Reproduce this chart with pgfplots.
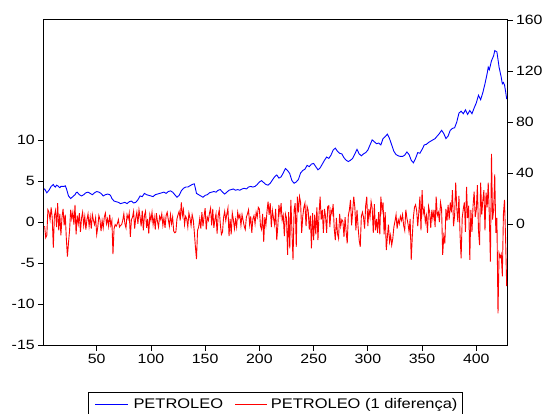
\documentclass[border=0pt]{standalone}
\usepackage{fontspec}
\setmainfont{Liberation Sans}[FakeStretch=1.18]
\usepackage{pgfplots}
\pgfplotsset{compat=1.18}
\begin{document}
\begin{tikzpicture}
\pgfplotsset{
  common/.style={
    at={(0,0)}, anchor=south west,
    scale only axis, width=463.3bp, height=325.3bp,
    xmin=1.13, xmax=428.3,
    tick align=outside, major tick length=5.5bp,
    tick style={black, line width=0.8bp},
    /pgf/number format/assume math mode=true,
    tick label style={font=\fontsize{13.5}{15}\selectfont},
    axis line style={line width=1bp},
  },
}
\begin{axis}[common, axis y line*=right, axis x line=none,
  ymin=-95.1, ymax=160, ytick={0,40,80,120,160}]
\addplot[draw=blue, line width=0.9bp] coordinates {
(1,27)(2,27.5)(4,24.5)(6,26.5)(7,28)(8,29.5)(10,31)(11,29.5)(12,29)(13,30.5)(14,30)(16,28.5)(17,29.5)(18,29.5)(20,29.5)(21,30)(22,28)(23,25)(24,22)(26,20)(28,21.5)(30,23)(31,24.5)(32,25)(34,23)(36,22)(38,23)(40,24.5)(42,25)(44,24)(46,23)(48,24.5)(50,25.5)(52,25)(54,24)(56,22)(58,23)(60,23.5)(62,23)(63,22)(64,20)(66,18)(68,17.5)(70,17)(72,16)(74,16.5)(76,17)(78,16)(80,17.5)(82,18)(84,16.5)(86,17)(88,19)(90,22)(92,21.5)(94,24)(96,23)(98,22.5)(100,22)(102,21.5)(104,23)(106,23.5)(108,24)(110,24.5)(112,25)(114,24)(116,25.5)(118,26)(120,25)(122,23)(124,21)(126,22.5)(128,26)(130,28)(132,29)(134,29)(136,30)(138,31)(140,31.5)(141,28)(142,24)(144,23)(146,22)(148,21)(150,22.5)(152,23)(154,24.5)(156,25)(158,25.5)(160,25)(162,26.5)(164,27)(166,25)(168,23.5)(170,25)(172,26.5)(174,27)(176,27.5)(178,26.5)(180,27)(182,26.5)(184,27.5)(186,28)(188,27.5)(190,29)(192,29.5)(194,29)(196,29.5)(198,31)(200,33)(202,34)(204,32.5)(206,31)(208,30.5)(210,32)(212,34.5)(214,37)(216,38.5)(218,36)(220,37)(222,40)(224,43.5)(226,42)(228,39.5)(230,34)(232,32)(234,33)(236,35)(238,40)(240,42)(242,43)(244,46)(246,45)(248,47)(250,47.5)(252,45)(254,42.5)(256,44)(258,47)(260,50)(262,52.5)(264,51.5)(266,54)(268,58)(270,59.5)(272,57)(274,55.5)(276,55)(278,52)(280,50)(282,49)(284,50)(286,51.5)(288,55)(290,58.5)(292,55)(294,53.5)(296,55)(298,56)(300,58)(302,62)(304,66)(306,64.5)(308,63)(310,63.5)(312,62)(314,67)(316,68.5)(318,70.5)(320,67)(322,62)(324,57)(326,54.5)(328,53.5)(330,53)(332,53)(334,54)(336,56.5)(338,54.5)(340,50)(342,48)(344,51.5)(346,56)(348,55.5)(350,58.5)(352,62)(354,62.5)(356,64)(358,65)(360,66)(362,67)(364,69)(366,71)(368,73.5)(370,71)(372,67)(374,69)(376,73.5)(378,75)(380,75.5)(382,80)(384,87)(386,88.5)(388,86.5)(390,89.5)(392,86)(394,89)(396,86.5)(398,91)(400,95)(402,101)(404,97.5)(406,103)(408,110)(410,118)(411,123)(412,121)(414,128)(416,132)(417,136)(418,135.5)(419,135)(421,123)(423,115)(424,110)(425,111)(426,109)(427,104)(428,98)
};
\end{axis}
\begin{axis}[common,
  ymin=-15, ymax=24.61, ytick={-15,-10,-5,0,5,10},
  xtick={50,100,...,400}, xtick pos=bottom, ytick pos=left,
  ]
\addplot[draw=red, line width=0.9bp] coordinates {
(2,-0.5)(3,-1.9)(4,-1.6)(5,1.5)(6,1.2)(7,0.3)(8,1.8)(9,0.5)(10,-3.1)(11,0.8)
(12,1.4)(13,-0.6)(14,2.3)(15,-1.0)(16,1.0)(17,-1.6)(18,0.6)(19,1.6)(20,-0.4)(21,0.9)
(22,-2.0)(23,-4.2)(24,-2.5)(25,-1.0)(26,1.5)(27,0.4)(28,1.2)(29,-0.3)(30,2.1)(31,-1.5)
(32,0.8)(33,-0.2)(34,1.1)(35,-1.2)(36,0.5)(37,1.2)(38,-0.4)(39,0.7)(40,-0.9)(41,0.3)
(42,1.0)(43,-0.5)(44,0.6)(45,-0.8)(46,0.9)(47,0.2)(48,-0.3)(49,0.5)(50,-1.5)(51,-0.6)
(52,0.8)(53,0.3)(54,-1.1)(55,0.2)(56,-0.7)(57,0.6)(58,1.1)(59,-0.2)(60,0.4)(61,-0.5)
(62,0.9)(63,-0.4)(64,0.2)(65,-3.9)(66,-0.8)(67,-0.3)(68,-0.5)(69,-0.2)(70,0.3)(71,-0.6)
(72,-0.4)(73,-0.3)(74,0.2)(75,1.0)(76,-0.2)(77,-0.7)(78,0.9)(79,0.4)(80,1.1)(81,-1.8)
(82,0.3)(83,0.6)(84,1.3)(85,-0.8)(86,0.5)(87,1.2)(88,-0.2)(89,1.5)(90,0.6)(91,-0.5)
(92,1.4)(93,-1.0)(94,0.8)(95,1.3)(96,-0.7)(97,0.4)(98,-1.4)(99,0.9)(100,0.2)(101,1.2)
(102,-0.3)(103,0.6)(104,-0.9)(105,1.1)(106,0.1)(107,-0.6)(108,0.7)(109,0.3)(110,1.0)(111,-0.4)
(112,0.5)(113,-0.7)(114,0.8)(115,1.2)(116,0.3)(117,-0.5)(118,0.9)(119,-0.2)(120,0.6)(121,-1.1)
(122,-1.3)(123,-1.2)(124,0.4)(125,0.9)(126,1.3)(127,0.2)(128,2.4)(129,0.8)(130,1.5)(131,-0.3)
(132,0.7)(133,0.4)(134,-0.6)(135,1.1)(136,0.5)(137,-0.4)(138,0.9)(139,0.3)(140,-1.2)(141,-3.0)
(142,-4.5)(143,-1.0)(144,-0.6)(145,0.4)(146,-0.8)(147,1.2)(148,-0.5)(149,0.7)(150,1.7)(151,-0.9)
(152,0.6)(153,0.2)(154,1.1)(155,1.7)(156,-0.4)(157,1.6)(158,-0.7)(159,0.3)(160,1.0)(161,-1.4)
(162,0.8)(163,1.5)(164,-0.3)(165,-1.5)(166,-1.2)(167,0.6)(168,1.3)(169,0.2)(170,1.0)(171,1.7)
(172,-1.7)(173,0.4)(174,-1.5)(175,1.1)(176,0.3)(177,-0.8)(178,0.3)(179,-0.6)(180,1.2)(181,0.5)
(182,0.9)(183,-0.4)(184,0.9)(185,0.2)(186,-0.5)(187,-0.9)(188,0.6)(189,1.0)(190,1.5)(191,-0.3)
(192,0.7)(193,-1.3)(194,0.4)(195,0.8)(196,-0.2)(197,1.2)(198,0.6)(199,1.8)(200,1.6)(201,-0.5)
(202,-0.9)(203,1.0)(204,-2.4)(205,0.6)(206,-0.4)(207,1.3)(208,2.5)(209,0.9)(210,2.3)(211,-0.6)
(212,1.4)(213,0.5)(214,-0.3)(215,1.6)(216,-2.2)(217,-0.5)(218,2.1)(219,0.9)(220,2.3)(221,0.2)
(222,0.8)(223,-1.7)(224,1.0)(225,0.5)(226,-4.0)(227,1.2)(228,-3.2)(229,2.7)(230,-1.0)(231,-4.6)
(232,1.5)(233,2.3)(234,-3.0)(235,3.1)(236,1.2)(237,3.1)(238,2.4)(239,-1.3)(240,0.7)(241,1.8)
(242,2.3)(243,-0.5)(244,1.9)(245,1.4)(246,-0.9)(247,0.8)(248,-3.2)(249,1.1)(250,-2.2)(251,0.9)
(252,-1.5)(253,1.8)(254,-2.2)(255,1.0)(256,3.1)(257,0.3)(258,1.5)(259,-1.3)(260,1.6)(261,0.7)
(262,-1.3)(263,1.9)(264,2.0)(265,-0.6)(266,1.5)(267,1.0)(268,2.2)(269,-0.8)(270,-2.2)(271,0.5)
(272,-1.4)(273,-2.0)(274,1.0)(275,-0.5)(276,0.3)(277,0.1)(278,-1.8)(279,0.6)(280,-1.2)(281,-2.6)
(282,0.8)(283,1.5)(284,2.7)(285,-0.4)(286,1.3)(287,3.1)(288,1.8)(289,-1.0)(290,1.5)(291,-0.6)
(292,-2.2)(293,-3.0)(294,0.7)(295,1.2)(296,0.6)(297,-0.8)(298,2.0)(299,3.1)(300,-0.5)(301,1.6)
(302,0.6)(303,2.5)(304,1.7)(305,-1.3)(306,2.2)(307,-1.0)(308,0.4)(309,-1.3)(310,1.2)(311,-1.5)
(312,3.1)(313,1.4)(314,2.4)(315,-1.5)(316,1.2)(317,-3.4)(318,-1.8)(319,-0.3)(320,-2.4)(321,-1.6)
(322,-2.8)(323,-2.0)(324,-0.6)(325,0.1)(326,0.9)(327,-0.8)(328,0.3)(329,-0.2)(330,0.7)(331,0.2)
(332,0.9)(333,-0.4)(334,-1.0)(335,1.5)(336,0.5)(337,-0.2)(338,-1.2)(339,0.4)(340,-4.6)(341,-1.7)
(342,0.6)(343,1.8)(344,2.1)(345,1.4)(346,-0.5)(347,1.2)(348,3.1)(349,-1.0)(350,3.9)(351,1.0)
(352,1.6)(353,0.0)(354,0.8)(355,-1.3)(356,1.9)(357,1.2)(358,-0.7)(359,1.5)(360,0.4)(361,1.5)
(362,-0.6)(363,3.1)(364,0.8)(365,1.2)(366,0.0)(367,2.4)(368,1.6)(369,-4.0)(370,-1.7)(371,-2.6)
(372,1.6)(373,0.2)(374,2.1)(375,0.3)(376,2.4)(377,1.2)(378,3.9)(379,-0.5)(380,0.8)(381,4.8)
(382,1.7)(383,0.0)(384,3.2)(385,-1.5)(386,-4.4)(387,0.5)(388,1.6)(389,2.4)(390,-1.2)(391,4.3)
(392,0.5)(393,2.0)(394,-4.6)(395,1.5)(396,-1.2)(397,2.0)(398,3.7)(399,0.6)(400,1.5)(401,4.5)
(402,-1.0)(403,-2.8)(404,4.8)(405,0.9)(406,2.6)(407,3.9)(408,-1.0)(409,3.6)(410,1.8)(411,4.8)
(412,0.8)(413,-4.8)(414,8.3)(415,0.3)(416,1.5)(417,5.8)(418,-1.3)(419,0.5)(420,-11.1)(421,-3.8)
(422,-4.3)(423,-3.9)(424,-6.6)(425,1.0)(426,2.7)(427,-2.0)(428,-7.8)
};
\end{axis}
% legend (drawn as plain decoration below the axes)
\draw[black, line width=0.8bp] (44.6bp,-75bp) -- (44.6bp,-47bp) -- (418.6bp,-47bp) -- (418.6bp,-75bp);
\draw[blue, line width=0.9bp] (51.3bp,-59bp) -- (84.6bp,-59bp);
\node[anchor=base west, inner sep=0pt, font=\fontsize{14}{16}\selectfont] at (89.6bp,-63.5bp) {PETROLEO};
\draw[red, line width=0.9bp] (191.3bp,-59bp) -- (223bp,-59bp);
\node[anchor=base west, inner sep=0pt, font=\fontsize{14}{16}\selectfont] at (227bp,-63.5bp) {PETROLEO (1 diferença)};
\pgfresetboundingbox
\path (-43.7bp,-68.7bp) rectangle (503.3bp,345.3bp);
\end{tikzpicture}
\end{document}
